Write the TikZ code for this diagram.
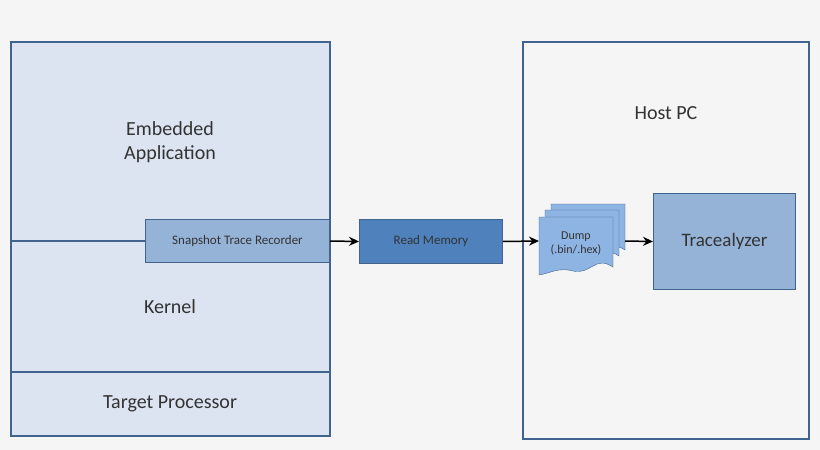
\documentclass[tikz,border=0pt]{standalone}
\usepackage{fontspec}
\setmainfont{Carlito}
\usetikzlibrary{positioning,arrows.meta}
\definecolor{bgcol}{HTML}{F5F5F5}
\definecolor{edgecol}{HTML}{41648F}
\definecolor{palecol}{HTML}{DBE4F0}
\definecolor{midcol}{HTML}{95B3D7}
\definecolor{darkcol}{HTML}{4F81BD}
\definecolor{doccol}{HTML}{8DB4E2}
\definecolor{inkcol}{HTML}{333333}
\tikzset{
  panel/.style={draw=edgecol,line width=1.6pt,anchor=north west,inner sep=0pt},
  block/.style={draw=edgecol,line width=1pt,anchor=north west,inner sep=0pt},
  link/.style={line width=1.5pt,-{Stealth[length=10pt,width=9pt]}},
  big/.style={font=\fontsize{20}{24}\selectfont,text=inkcol},
  small/.style={font=\fontsize{13}{15}\selectfont,text=inkcol},
}
\newcommand{\docpage}[2]{% #1 = north west corner, #2 = side height
  \draw[edgecol,fill=doccol] (#1) -- ++(74,0) -- ++(0,#2) .. controls ++(-18,-12) and ++(18,4) .. ++(-40,4) .. controls ++(-14,-4) and ++(12,-2) .. ++(-34,4) -- cycle;}
\begin{document}
\begin{tikzpicture}[x=1pt,y=-1pt]
  \fill[bgcol] (0,0) rectangle (820,450);
  \useasboundingbox (0,0) rectangle (820,450);

  % target side
  \node[panel,fill=palecol,minimum width=319pt,minimum height=394pt] (target) at (10,41) {};
  \node[panel,fill=palecol,minimum width=319pt,minimum height=64pt] (cpu) at (10,371) {};
  \node[big] (cpulabel) at (170,404) {Target Processor};
  \node[big,align=center] (app) at (170,142) {Embedded\\Application};
  \node[big] (kernel) at (170,307) {Kernel};
  \node[block,fill=midcol,minimum width=184pt,minimum height=43pt] (recorder) at (145,219) {};
  \node[small] (reclabel) at (recorder.center) {Snapshot Trace Recorder};
  \coordinate (split) at (10,241);
  \draw[edgecol,line width=1.6pt] (split) -- (recorder.west);

  % transfer
  \node[block,fill=darkcol,minimum width=143pt,minimum height=44pt] (readmem) at (359,219) {};
  \node[small] (readlabel) at (readmem.center) {Read Memory};

  % host side
  \node[panel,fill=bgcol,minimum width=286pt,minimum height=397pt] (host) at (522,41) {};
  \node[big] (hostlabel) at (666,113) {Host PC};
  \coordinate (docback) at (551,204);
  \coordinate (docmid) at (545,210);
  \coordinate (docfront) at (539,217);
  \docpage{docback}{46}
  \docpage{docmid}{46}
  \docpage{docfront}{50}
  \node[font=\fontsize{12}{14}\selectfont,text=inkcol,align=center] (dump) at (576,243) {Dump\\(.bin/.hex)};
  \coordinate (dumpin) at (539,241);
  \coordinate (dumpout) at (625,241);
  \node[block,fill=midcol,minimum width=142pt,minimum height=96pt] (tz) at (653,193) {};
  \node[font=\fontsize{19}{22}\selectfont,text=inkcol] (tzlabel) at (tz.center) {Tracealyzer};

  \draw[link] (recorder.east) -- (readmem.west);
  \draw[link] (readmem.east) -- (dumpin);
  \draw[link] (dumpout) -- (tz.west);
\end{tikzpicture}
\end{document}
